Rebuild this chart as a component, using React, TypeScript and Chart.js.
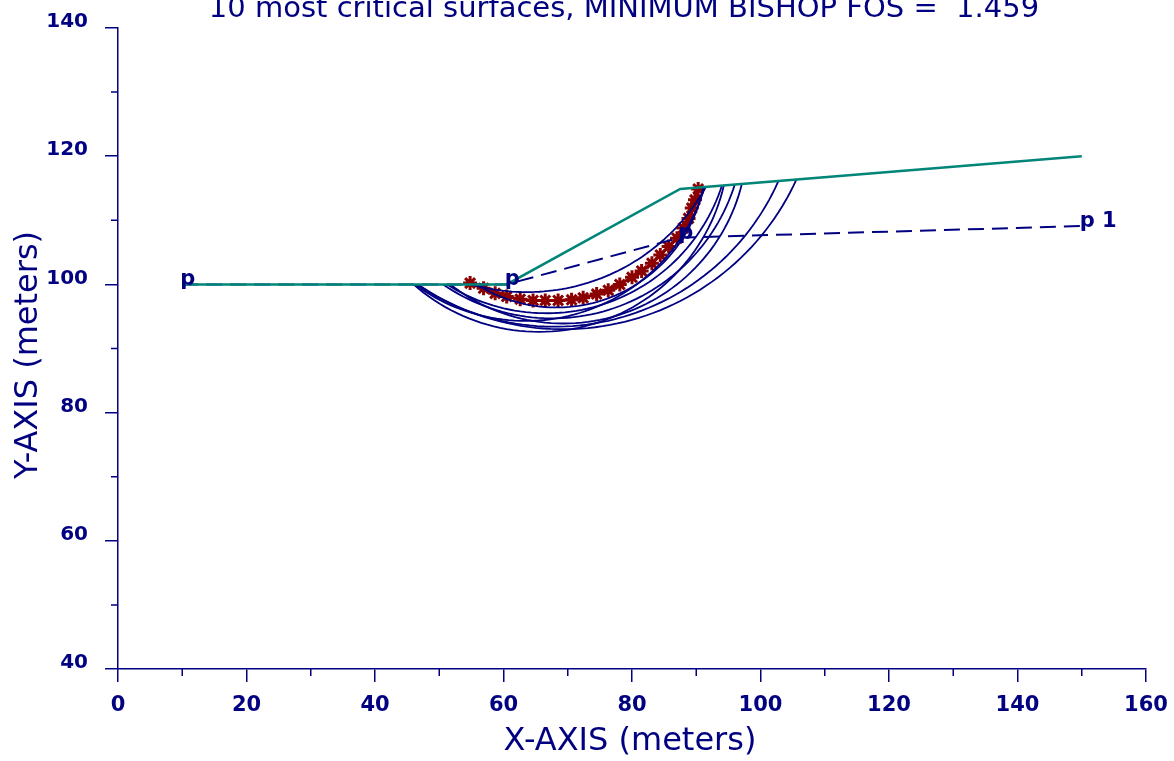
import React, { useEffect, useRef } from "react";
import { Chart, registerables } from "chart.js";

Chart.register(...registerables);

const NAVY = "#000080";
const TEAL = "#008578";
const DARK_RED = "#8b0000";
const FONT = "DejaVu Sans";

const titleText = "10 most critical surfaces, MINIMUM BISHOP FOS =  1.459";
const xTitle = "X-AXIS (meters)";
const yTitle = "Y-AXIS (meters)";

const xMin = 0;
const xMax = 160;
const xStep = 20;
const yMin = 40;
const yMax = 140;
const yStep = 20;

// ground surface profile
const groundX = [10, 60.5, 87.5, 150];
const groundY = [100, 100, 114.9, 120];

// piezometric line
const piezoX = [10, 60.5, 87.5, 150];
const piezoY = [100, 100, 107.3, 109.1];
const piezoLabels = ["p", "p", "p", "p 1"];

// critical surface vertices
const criticalX = [54.8, 56.9, 58.7, 60.5, 62.6, 64.6, 66.5, 68.5, 70.6, 72.4, 74.5, 76.3, 78.1, 80.0, 81.5, 83.1, 84.4, 85.7, 87.0, 88.0, 88.8, 89.3, 89.8, 90.3];
const criticalY = [100.2, 99.4, 98.6, 98.1, 97.7, 97.5, 97.5, 97.5, 97.6, 97.9, 98.5, 99.1, 100.0, 101.1, 102.1, 103.3, 104.6, 105.9, 107.2, 108.8, 110.3, 111.9, 113.2, 114.9];

// other circular surfaces: entry x, exit x, lowest elevation
const surfaceEntryX = [55.0, 55.8, 51.2, 50.6, 51.7, 46.0, 46.5, 46.7, 46.2];
const surfaceExitX = [91.5, 91.1, 94.0, 96.0, 97.1, 94.3, 102.8, 105.6, 91.3];
const surfaceBottomY = [98.8, 96.4, 95.5, 94.7, 93.9, 92.6, 93.4, 93.0, 94.3];

function groundAt(x: number): number {
  for (let i = 0; i < groundX.length - 1; i++) {
    if (x >= groundX[i] && x <= groundX[i + 1]) {
      const t = (x - groundX[i]) / (groundX[i + 1] - groundX[i]);
      return groundY[i] + t * (groundY[i + 1] - groundY[i]);
    }
  }
  return groundY[groundY.length - 1];
}

function circleArc(xE: number, xX: number, yb: number) {
  const yE = groundAt(xE);
  const yX = groundAt(xX);
  const bE = (a: number) => ((xE - a) ** 2 / (yE - yb) + yb + yE) / 2;
  const bX = (a: number) => ((xX - a) ** 2 / (yX - yb) + yb + yX) / 2;
  let lo = xE;
  let hi = xX;
  for (let k = 0; k < 80; k++) {
    const mid = (lo + hi) / 2;
    if (bE(mid) - bX(mid) < 0) lo = mid;
    else hi = mid;
  }
  const a = (lo + hi) / 2;
  const b = bE(a);
  const r = b - yb;
  const t0 = Math.atan2(yE - b, xE - a);
  const t1 = Math.atan2(yX - b, xX - a);
  const pts: { x: number; y: number }[] = [];
  const n = 60;
  for (let i = 0; i <= n; i++) {
    const t = t0 + ((t1 - t0) * i) / n;
    pts.push({ x: a + r * Math.cos(t), y: b + r * Math.sin(t) });
  }
  return pts;
}

const textPlugin = {
  id: "slopeText",
  afterDatasetsDraw(chart: any) {
    const { ctx, scales } = chart;
    const xs = scales.x;
    const ys = scales.y;
    ctx.save();
    ctx.fillStyle = NAVY;
    // piezometric labels
    ctx.font = `bold 21px "${FONT}"`;
    ctx.textAlign = "left";
    ctx.textBaseline = "alphabetic";
    piezoX.forEach((x, i) => {
      const px = xs.getPixelForValue(x);
      const py = ys.getPixelForValue(piezoY[i]);
      ctx.fillText(piezoLabels[i], px - 2, py + 1);
    });
    // minor ticks
    ctx.strokeStyle = NAVY;
    ctx.lineWidth = 1.5;
    const bottom = chart.chartArea.bottom;
    const left = chart.chartArea.left;
    ctx.beginPath();
    for (let v = xMin + xStep / 2; v < xMax; v += xStep) {
      const px = xs.getPixelForValue(v);
      ctx.moveTo(px, bottom);
      ctx.lineTo(px, bottom + 7);
    }
    for (let v = yMin + yStep / 2; v < yMax; v += yStep) {
      const py = ys.getPixelForValue(v);
      ctx.moveTo(left, py);
      ctx.lineTo(left - 7, py);
    }
    ctx.stroke();
    // title
    ctx.textAlign = "center";
    ctx.font = `29px "${FONT}"`;
    ctx.fillText(titleText, 624, 17);
    // axis titles
    ctx.font = `32px "${FONT}"`;
    ctx.fillText(xTitle, 630, 750);
    ctx.translate(37, 355);
    ctx.rotate(-Math.PI / 2);
    ctx.fillText(yTitle, 0, 0);
    ctx.restore();
  },
};

export default function App() {
  const ref = useRef<HTMLCanvasElement | null>(null);

  useEffect(() => {
    if (!ref.current) return;
    const datasets: any[] = [];
    datasets.push({
      label: "ground",
      data: groundX.map((x, i) => ({ x, y: groundY[i] })),
      showLine: true,
      borderColor: TEAL,
      borderWidth: 2.5,
      pointRadius: 0,
      tension: 0,
    });
    datasets.push({
      label: "piezometric",
      data: piezoX.map((x, i) => ({ x, y: piezoY[i] })),
      showLine: true,
      borderColor: NAVY,
      borderWidth: 2,
      borderDash: [16, 8],
      pointRadius: 0,
      tension: 0,
    });
    surfaceEntryX.forEach((xE, i) => {
      datasets.push({
        label: "surface " + (i + 2),
        data: circleArc(xE, surfaceExitX[i], surfaceBottomY[i]),
        showLine: true,
        borderColor: NAVY,
        borderWidth: 1.8,
        pointRadius: 0,
        tension: 0,
      });
    });
    datasets.push({
      label: "critical",
      data: criticalX.map((x, i) => ({ x, y: criticalY[i] })),
      showLine: true,
      borderColor: DARK_RED,
      borderWidth: 3,
      pointStyle: "star",
      pointRadius: 7,
      pointBorderWidth: 3,
      pointBorderColor: DARK_RED,
      pointBackgroundColor: DARK_RED,
      tension: 0,
    });

    const chart = new Chart(ref.current, {
      type: "scatter",
      data: { datasets },
      options: {
        responsive: false,
        animation: false,
        layout: { padding: { left: 0, top: 28, right: 28, bottom: 0 } },
        plugins: {
          legend: { display: false },
          tooltip: { enabled: false },
          title: { display: false },
        },
        scales: {
          x: {
            type: "linear",
            min: xMin,
            max: xMax,
            afterFit: (s: any) => {
              s.height = 92;
              s.paddingLeft = 0;
              s.paddingRight = 0;
            },
            ticks: {
              stepSize: xStep,
              color: NAVY,
              font: { family: FONT, size: 21, weight: "bold" },
              padding: 11,
              maxRotation: 0,
            },
            grid: {
              drawOnChartArea: false,
              drawTicks: true,
              tickLength: 13,
              color: NAVY,
              lineWidth: 1.5,
            },
            border: { display: true, color: NAVY, width: 1.5 },
          },
          y: {
            type: "linear",
            min: yMin,
            max: yMax,
            afterFit: (s: any) => {
              s.width = 118;
              s.paddingTop = 0;
              s.paddingBottom = 0;
            },
            ticks: {
              stepSize: yStep,
              color: NAVY,
              font: { family: FONT, size: 20, weight: "bold" },
              padding: 17,
              labelOffset: -6,
            },
            grid: {
              drawOnChartArea: false,
              drawTicks: true,
              tickLength: 13,
              color: NAVY,
              lineWidth: 1.5,
            },
            border: { display: true, color: NAVY, width: 1.5 },
          },
        },
      },
      plugins: [textPlugin],
    });
    return () => chart.destroy();
  }, []);

  return (
    <div style={{ position: "fixed", left: 0, top: 0, width: 1174, height: 761, background: "#fff" }}>
      <canvas ref={ref} width={1174} height={761} style={{ width: 1174, height: 761, display: "block" }} />
    </div>
  );
}
